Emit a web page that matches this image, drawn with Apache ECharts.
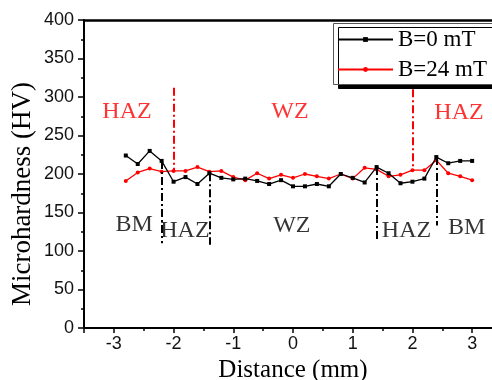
<!DOCTYPE html>
<html>
<head>
<meta charset="utf-8">
<script src="https://cdn.jsdelivr.net/npm/echarts@6/dist/echarts.min.js"></script>
<style>html,body{margin:0;padding:0;background:#fff}#c{width:492px;height:380px}</style>
</head>
<body>
<div id="c"></div>
<script>
// Distance (mm)
var distance = [-2.8,-2.6,-2.4,-2.2,-2.0,-1.8,-1.6,-1.4,-1.2,-1.0,-0.8,-0.6,-0.4,-0.2,0.0,0.2,0.4,0.6,0.8,1.0,1.2,1.4,1.6,1.8,2.0,2.2,2.4,2.6,2.8,3.0];
// Microhardness (HV), B = 0 mT
var hv0 = [224,213,230,217,190,196,187,201,195,193,194,191,187,192,184,184,187,184,200,195,189,209,201,188,190,194,222,214,217,217];
// Microhardness (HV), B = 24 mT
var hv24 = [191,202,207,203,204,204,209,203,204,196,192,201,194,199,195,200,197,194,200,194,208,206,197,199,205,205,218,201,197,192];
var seriesNames = ['B=0 mT', 'B=24 mT'];
// zone boundary lines: [x, yTop, yBottom]
var blackBounds = [[-2.2,217,110],[-1.4,201,108],[1.4,209,114],[2.4,222,133]];
var redBounds = [[-2.0,312,204],[2.0,310,205]];
// zone labels: [x, y, text]
var redZones = [[-2.78,281,'HAZ'],[-0.05,281,'WZ'],[2.78,280,'HAZ']];
var blackZones = [[-2.66,134,'BM'],[-1.81,127,'HAZ'],[-0.02,133,'WZ'],[1.90,127,'HAZ'],[2.91,130,'BM']];
var yTicks = [0, 400, 50];
var xRange = [-3.5, 3.5];

var serif = 'Liberation Serif, Times New Roman, serif';
var sans = 'Liberation Sans, Arial, sans-serif';

function pairs(xs, ys){ return xs.map(function(x,i){ return [x, ys[i]]; }); }
function boundLines(arr){
  return arr.map(function(b){ return [{coord:[b[0],b[1]]},{coord:[b[0],b[2]]}]; });
}
var dashDot = [8,3,2,3];

var chart = echarts.init(document.getElementById('c'));
chart.setOption({
  animation: false,
  grid: {left: 84, top: 20, right: -10, bottom: 52, containLabel: false, outerBoundsMode: 'none'},
  legend: {
    data: seriesNames,
    left: 333, top: 23, orient: 'vertical', z: 10,
    itemWidth: 55, itemHeight: 6, itemGap: 7,
    padding: [5, 0, 5, 4],
    textStyle: {fontFamily: serif, fontSize: 23, color: '#000', padding: [0,0,0,0]}
  },
  xAxis: [{
    type: 'value', min: xRange[0], max: xRange[1], splitNumber: 7,
    name: 'Distance (mm)', nameLocation: 'middle', nameGap: 9,
    nameTextStyle: {fontFamily: serif, fontSize: 25, color: '#000', verticalAlign: 'top'},
    axisLine: {show: true, onZero: false, lineStyle: {color: '#000', width: 2}},
    axisTick: {show: true, inside: false, length: 5, lineStyle: {color: '#000', width: 1.5}},
    minorTick: {show: true, splitNumber: 2, length: 3, lineStyle: {color: '#000', width: 1.5}},
    axisLabel: {fontFamily: sans, fontSize: 18, color: '#111', margin: 7,
      formatter: function(v){ return (Math.abs(v) > 3.4) ? '' : String(v); }},
    splitLine: {show: false}
  },{
    type: 'value', position: 'top', min: xRange[0], max: xRange[1],
    axisLine: {show: true, onZero: false, lineStyle: {color: '#000', width: 2.5}},
    axisTick: {show: false}, axisLabel: {show: false}, splitLine: {show: false}
  }],
  yAxis: {
    type: 'value', min: yTicks[0], max: yTicks[1], interval: yTicks[2],
    axisLine: {show: true, onZero: false, lineStyle: {color: '#000', width: 2}},
    axisTick: {show: true, inside: false, length: 6, lineStyle: {color: '#000', width: 1.5}},
    minorTick: {show: true, splitNumber: 2, length: 3, lineStyle: {color: '#000', width: 1.5}},
    axisLabel: {fontFamily: sans, fontSize: 18, color: '#111', margin: 10},
    splitLine: {show: false}
  },
  graphic: [{
    type: 'text', x: 23, y: 194, rotation: Math.PI/2,
    style: {text: 'Microhardness (HV)', font: '27px ' + serif, fill: '#000',
      textAlign: 'center', textVerticalAlign: 'middle'}
  },{
    type: 'rect', z: 9, shape: {x: 333.5, y: 23.5, width: 200, height: 61},
    style: {fill: '#fff', stroke: '#555', lineWidth: 1,
      shadowColor: '#000', shadowBlur: 0, shadowOffsetX: 5, shadowOffsetY: 4}
  }],
  series: [{
    name: seriesNames[0], type: 'line', data: pairs(distance, hv0),
    symbol: 'rect', symbolSize: 4, showAllSymbol: true,
    lineStyle: {color: '#000', width: 1.3}, itemStyle: {color: '#000'},
    markLine: {silent: true, symbol: 'none', label: {show: false},
      lineStyle: {color: '#000', width: 2, type: dashDot}, data: boundLines(blackBounds)},
    z: 3
  },{
    name: seriesNames[1], type: 'line', data: pairs(distance, hv24),
    symbol: 'circle', symbolSize: 4, showAllSymbol: true,
    lineStyle: {color: '#ff0000', width: 1.3}, itemStyle: {color: '#ff0000'},
    markLine: {silent: true, symbol: 'none', label: {show: false},
      lineStyle: {color: '#ff0000', width: 2, type: dashDot}, data: boundLines(redBounds)},
    z: 2
  },{
    name: 'redZones', type: 'scatter', symbolSize: 0, silent: true,
    data: redZones,
    label: {show: true, position: 'inside', formatter: function(p){ return p.value[2]; },
      fontFamily: serif, fontSize: 24, color: '#ff0000'}
  },{
    name: 'blackZones', type: 'scatter', symbolSize: 0, silent: true,
    data: blackZones,
    label: {show: true, position: 'inside', formatter: function(p){ return p.value[2]; },
      fontFamily: serif, fontSize: 24, color: '#000'}
  }]
});
</script>
</body>
</html>
